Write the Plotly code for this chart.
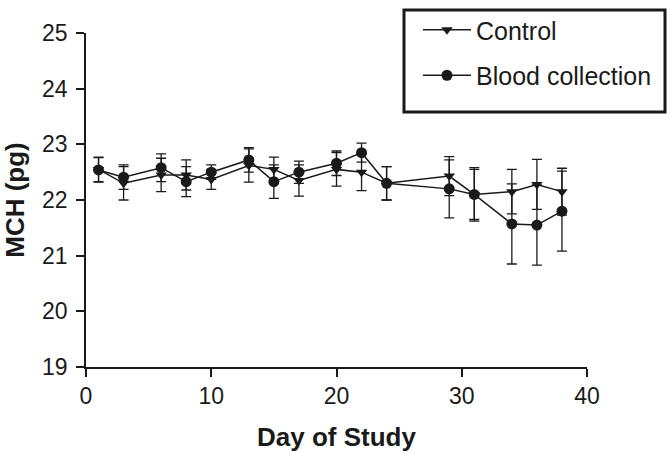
import plotly.graph_objects as go

days = [1, 3, 6, 8, 10, 13, 15, 17, 20, 22, 24, 29, 31, 34, 36, 38]
control = [22.55, 22.30, 22.45, 22.45, 22.37, 22.62, 22.55, 22.35, 22.55, 22.50, 22.30, 22.43, 22.10, 22.15, 22.28, 22.15]
control_err = [0.22, 0.30, 0.30, 0.27, 0.18, 0.30, 0.22, 0.28, 0.30, 0.33, 0.30, 0.35, 0.45, 0.40, 0.45, 0.42]
blood = [22.54, 22.41, 22.58, 22.33, 22.50, 22.72, 22.33, 22.50, 22.66, 22.85, 22.30, 22.20, 22.10, 21.57, 21.55, 21.80]
blood_err = [0.22, 0.22, 0.25, 0.27, 0.13, 0.22, 0.30, 0.20, 0.22, 0.17, 0.30, 0.52, 0.48, 0.72, 0.72, 0.72]

FONT = "Liberation Sans, Arial, Helvetica, sans-serif"
INK = "#1a1a1a"

W, H = 670, 452
ML, MR, MT, MB = 86, 83, 33, 85
PW, PH = W - ML - MR, H - MT - MB
X0PIX, Y0PIX = ML, H - MB


def px(xp):
    return (xp - X0PIX) / PW


def py(yp):
    return (Y0PIX - yp) / PH


fig = go.Figure()
fig.add_trace(go.Scatter(
    x=days, y=control, name="Control", mode="lines+markers",
    line=dict(color=INK, width=1.5),
    marker=dict(symbol="triangle-down", size=10, color=INK),
    error_y=dict(type="data", array=control_err, color=INK, thickness=1.3, width=5),
    legendgroup="a",
))
fig.add_trace(go.Scatter(
    x=days, y=blood, name="Blood collection", mode="lines+markers",
    line=dict(color=INK, width=1.5),
    marker=dict(symbol="circle", size=11, color=INK),
    error_y=dict(type="data", array=blood_err, color=INK, thickness=1.3, width=5),
    legendgroup="b",
))

fig.update_layout(
    width=W, height=H,
    margin=dict(l=ML, r=MR, t=MT, b=MB, autoexpand=False),
    paper_bgcolor="white", plot_bgcolor="white",
    font=dict(family=FONT, color=INK, size=23),
    showlegend=True,
    legend=dict(
        xref="container", yref="container",
        x=418 / W, y=1 - 7 / H, xanchor="left", yanchor="top",
        font=dict(family=FONT, size=25, color=INK),
        bgcolor="rgba(0,0,0,0)", borderwidth=0,
        tracegroupgap=10, traceorder="grouped",
        itemwidth=48,
    ),
    shapes=[dict(
        type="rect", xref="paper", yref="paper",
        x0=px(404), x1=px(665),
        y0=py(112), y1=py(10),
        line=dict(color=INK, width=3),
    )],
    xaxis=dict(
        range=[0, 40], tickvals=[0, 10, 20, 30, 40],
        showgrid=False, zeroline=False, automargin=False,
        showline=True, linecolor=INK, linewidth=1.5,
        ticks="outside", ticklen=8, tickwidth=1.5, tickcolor=INK,
        tickfont=dict(size=23),
        title=dict(text="<b>Day of Study</b>", font=dict(size=26), standoff=24),
    ),
    yaxis=dict(
        range=[19, 25], tickvals=[19, 20, 21, 22, 23, 24, 25],
        showgrid=False, zeroline=False, automargin=False,
        showline=True, linecolor=INK, linewidth=1.5,
        ticks="outside", ticklen=8, tickwidth=1.5, tickcolor=INK,
        tickfont=dict(size=23), ticklabelstandoff=4,
        title=dict(text="<b>MCH (pg)</b>", font=dict(size=26), standoff=14),
    ),
)

fig.write_html(
    "out.html",
    config={"displayModeBar": False},
    post_script="document.body.style.margin='0px';document.body.style.overflow='hidden';document.documentElement.style.overflow='hidden';",
)
